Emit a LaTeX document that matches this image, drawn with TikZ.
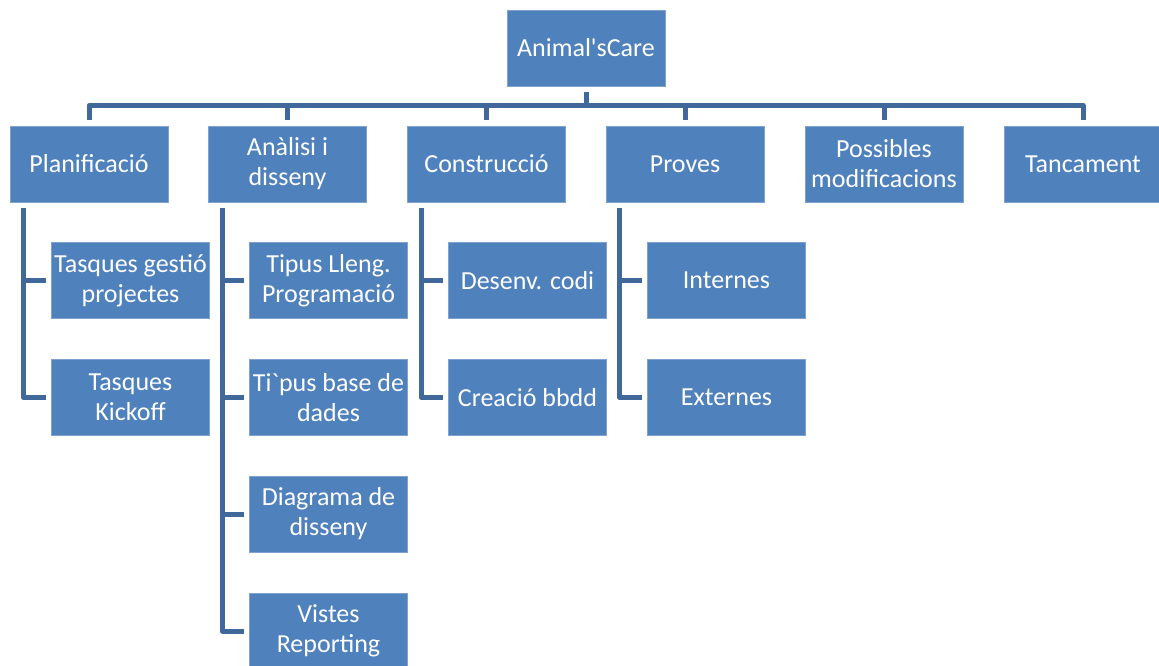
\documentclass[tikz,border=0pt]{standalone}
\usepackage{fontspec}
% plain font family: keeps the grave accent ` as a literal character
\newfontfamily\boxfont{Carlito}
\usetikzlibrary{calc}
\definecolor{boxblue}{RGB}{79,129,189}
\definecolor{linkblue}{RGB}{65,104,155}
\definecolor{edgeblue}{RGB}{128,162,207}
\tikzset{
  wbs/.style={fill=boxblue, draw=edgeblue, line width=0.6pt, text=white,
    minimum width=158pt, minimum height=76pt, inner sep=0pt,
    align=center, font=\boxfont\fontsize{26}{30}\selectfont},
  link/.style={draw=linkblue, line width=5pt, line join=round},
}
\begin{document}
\begin{tikzpicture}[x=1pt, y=-1pt]
\useasboundingbox (0,0) rectangle (1159,666);

% top level
\node[wbs] (root) at (586,48) {Animal'sCare};

% phases
\node[wbs] (plan) at (89,164)   {Planificació};
\node[wbs] (anal) at (287.5,164) {Anàlisi i\\disseny};
\node[wbs] (cons) at (486.5,164) {Construcció};
\node[wbs] (prov) at (685,164)  {Proves};
\node[wbs] (poss) at (884,164)  {Possibles\\modificacions};
\node[wbs] (tanc) at (1083,164) {Tancament};

% work packages
\node[wbs] (p1) at (130.5,280.5) {Tasques gestió\\projectes};
\node[wbs] (p2) at (130.5,397.5) {Tasques\\Kickoff};

\node[wbs] (a1) at (328.5,280.5) {Tipus Lleng.\\Programació};
\node[wbs] (a2) at (328.5,397.5) {Ti`pus base de\\dades};
\node[wbs] (a3) at (328.5,514)   {Diagrama de\\disseny};
\node[wbs] (a4) at (328.5,631)   {Vistes\\Reporting};

\node[wbs] (c1) at (527.5,280.5) {Desenv. codi};
\node[wbs] (c2) at (527.5,397.5) {Creació bbdd};

\node[wbs] (v1) at (726.5,280.5) {Internes};
\node[wbs] (v2) at (726.5,397.5) {Externes};

% horizontal bus below the root
\coordinate (bus) at (0,105.5);
\foreach \n in {plan,anal,cons,prov,poss,tanc}
  \draw[link] ([yshift=-6pt]root.south) -- (root.south |- bus) -| ([yshift=6pt]\n.north);

% side rails down to the work packages
\foreach \p/\c in {plan/p1,plan/p2,anal/a1,anal/a2,anal/a3,anal/a4,cons/c1,cons/c2,prov/v1,prov/v2}
  \draw[link] ([xshift=14pt,yshift=-6pt]\p.south west) |- ([xshift=-5pt]\c.west);
\end{tikzpicture}
\end{document}
